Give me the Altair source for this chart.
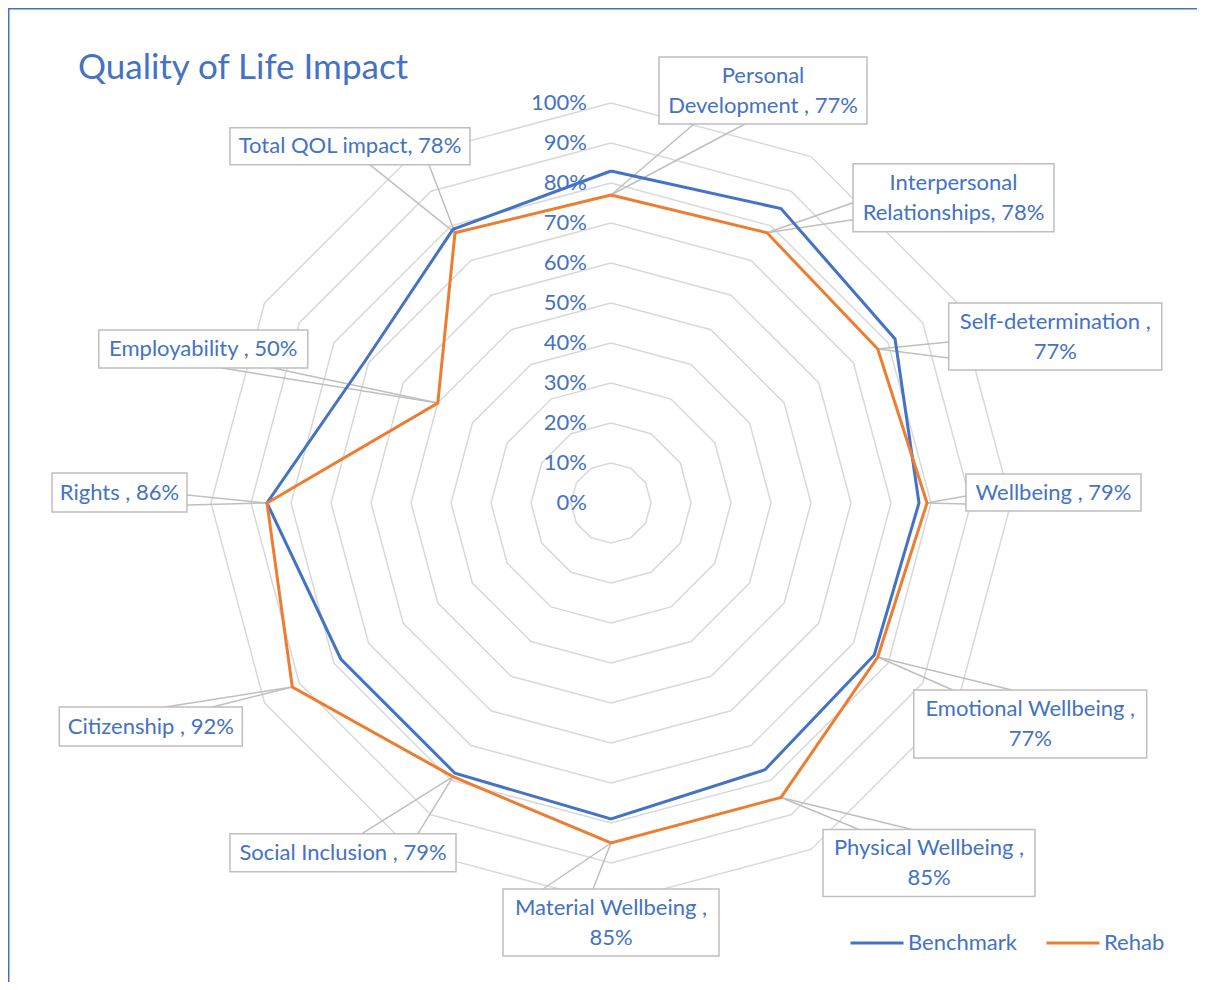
import math
import altair as alt
import pandas as pd

# ---------------- data ----------------
categories = [
    "Personal Development ", "Interpersonal Relationships", "Self-determination ",
    "Wellbeing ", "Emotional Wellbeing ", "Physical Wellbeing ", "Material Wellbeing ",
    "Social Inclusion ", "Citizenship ", "Rights ", "Employability ", "Total QOL impact",
]
benchmark = [0.83, 0.85, 0.82, 0.77, 0.76, 0.77, 0.79, 0.78, 0.78, 0.86, 0.71, 0.79]
rehab = [0.77, 0.78, 0.77, 0.79, 0.77, 0.85, 0.85, 0.79, 0.92, 0.86, 0.50, 0.78]
series_names = ["Benchmark", "Rehab"]
tick_values = [0.0, 0.1, 0.2, 0.3, 0.4, 0.5, 0.6, 0.7, 0.8, 0.9, 1.0]
title_text = "Quality of Life Impact"

# ---------------- layout (pixels / styles) ----------------
W, H = 1189, 974
CX, CY, R = 603, 495, 400          # centre of the radar and px per 100 %
BLUE, ORANGE = "#4472C4", "#ED7D31"
GRID, CALLOUT = "#D9D9D9", "#BFBFBF"
FONT = "Lato"
FS = 22
LH = 30
TICK_GAP = 24

# callout per category: box-centre offset from its point (px), box size,
# how the label wraps, and two wedge base points (offsets from the point)
callouts = [
    (152, -104.5, 208, 67, "word", (83, -71), (134, -71)),
    (186.5, -35, 201, 68, "word", (86, -30), (86, -13)),
    (177.5, -12.5, 213, 67, "value", (71, -7), (71, 9)),
    (126.5, -10.5, 175, 37, None, (39, -7), (39, 1)),
    (152.5, 67, 233, 68, "value", (75, 33), (134, 33)),
    (148, 65.5, 212, 67, "value", (78, 32), (131, 32)),
    (0, 79.5, 216, 67, "value", (-68, 46), (-18, 46)),
    (-110, 76, 226, 38, None, (-91, 57), (-35, 57)),
    (-141.5, 39.5, 183, 39, None, (-127, 20), (-80, 20)),
    (-147.5, -10.5, 135, 39, None, (-80, -8), (-80, 2)),
    (-234.5, -54, 209, 38, None, (-216, -35), (-165, -35)),
    (-105, -86.5, 240, 37, None, (-85, -68), (-26, -68)),
]

n = len(categories)


def polar(v, k):
    a = 2 * math.pi * k / n
    return v * math.sin(a), v * math.cos(a)


# rings
ring_rows = []
for v in tick_values[1:]:
    for k in range(n + 1):
        x, y = polar(v, k % n)
        ring_rows.append(dict(ring=v, order=k, x=x, y=y))
ring_df = pd.DataFrame(ring_rows)

# radial axis labels
tick_df = pd.DataFrame({"v": tick_values})
tick_df["x"] = -TICK_GAP / R
tick_df["lab"] = [f"{round(v * 100)}%" for v in tick_values]

# series
ser_rows = []
for name, vals in zip(series_names, [benchmark, rehab]):
    for k in range(n + 1):
        x, y = polar(vals[k % n], k % n)
        ser_rows.append(dict(series=name, order=k, x=x, y=y))
ser_df = pd.DataFrame(ser_rows)

# callouts
box_rows, wedge_rows, fill_rows = [], [], []
for i, (cat, val) in enumerate(zip(categories, rehab)):
    dx, dy, w, h, wrap, b1, b2 = callouts[i]
    tx, ty = polar(val, i)
    pct = f"{round(val * 100)}%"
    if wrap == "word":
        first, rest = cat.split(" ", 1)
        label = first + "\n" + rest + ", " + pct
    elif wrap == "value":
        label = cat + ",\n" + pct
    else:
        label = cat + ", " + pct
    nlines = label.count("\n") + 1
    cx, cy = tx + dx / R, ty - dy / R
    box_rows.append(dict(cx=cx, cy=cy, ty=cy + (nlines - 1) * LH / 2 / R,
                         x0=cx - w / 2 / R, x1=cx + w / 2 / R,
                         y0=cy - h / 2 / R, y1=cy + h / 2 / R, label=label))
    pts = [(tx, ty)]
    for b in (b1, b2):
        bx, by = tx + b[0] / R, ty - b[1] / R
        wedge_rows.append(dict(x=bx, y=by, x2=tx, y2=ty))
        pts.append((bx, by))
    # white wedge fill as an area between the triangle's upper and lower edges
    pts.sort()
    (ax, ay), (mx, my), (ex, ey) = pts
    t = 0.0 if ex == ax else (mx - ax) / (ex - ax)
    yo = ay + t * (ey - ay)
    for j, (px, p1, p2) in enumerate([(ax, ay, ay), (mx, my, yo), (ex, ey, ey)]):
        fill_rows.append(dict(w=i, o=j, x=px, y=p1, y2=p2))
box_df = pd.DataFrame(box_rows)
wedge_df = pd.DataFrame(wedge_rows)
fill_df = pd.DataFrame(fill_rows)

xs = alt.Scale(domain=[-CX / R, (W - CX) / R], nice=False, zero=False)
ys = alt.Scale(domain=[-(H - CY) / R, CY / R], nice=False, zero=False)


def X(f):
    return alt.X(f, scale=xs, axis=None)


def Y(f):
    return alt.Y(f, scale=ys, axis=None)


rings = alt.Chart(ring_df).mark_line(stroke=GRID, strokeWidth=1.5).encode(
    x=X("x:Q"), y=Y("y:Q"), detail="ring:N", order="order:Q")

ticks = alt.Chart(tick_df).mark_text(font=FONT, fontSize=FS, color=BLUE, align="right",
                                     baseline="middle").encode(
    x=X("x:Q"), y=Y("v:Q"), text="lab:N")

wedge_fill = alt.Chart(fill_df).mark_area(fill="white", opacity=1).encode(
    x=X("x:Q"), y=Y("y:Q"), y2="y2:Q", detail="w:N", order="o:Q")

wedges = alt.Chart(wedge_df).mark_rule(stroke=CALLOUT, strokeWidth=1.5).encode(
    x=X("x:Q"), y=Y("y:Q"), x2="x2:Q", y2="y2:Q")

lines = alt.Chart(ser_df).mark_line(strokeWidth=3).encode(
    x=X("x:Q"),
    y=Y("y:Q"),
    color=alt.Color(
        "series:N",
        scale=alt.Scale(domain=series_names, range=[BLUE, ORANGE]),
        legend=alt.Legend(orient="none", legendX=841, legendY=907, direction="horizontal",
                          symbolType="stroke", symbolStrokeWidth=3, symbolSize=2809,
                          labelFont=FONT, labelFontSize=FS, labelColor=BLUE, labelOffset=3,
                          columnPadding=23, padding=0, title=None, labelLimit=400),
    ),
    order="order:Q",
)

boxes = alt.Chart(box_df).mark_rect(fill="white", stroke=CALLOUT, strokeWidth=1.5).encode(
    x=X("x0:Q"), x2="x1:Q", y=Y("y0:Q"), y2="y1:Q")

labels = alt.Chart(box_df).mark_text(font=FONT, fontSize=FS, color=BLUE, lineBreak="\n",
                                      lineHeight=LH, align="center", baseline="middle").encode(
    x=X("cx:Q"), y=Y("ty:Q"), text="label:N")

title = alt.Chart(pd.DataFrame({"t": [title_text]})).mark_text(
    font=FONT, fontSize=35, color=BLUE, align="left", baseline="alphabetic").encode(
    x=alt.value(70), y=alt.value(71), text="t:N")

frame_left = alt.Chart(pd.DataFrame({"a": [0]})).mark_rule(stroke=BLUE, strokeWidth=1.5).encode(
    x=alt.value(0.75), y=alt.value(0), y2=alt.value(H))
frame_top = alt.Chart(pd.DataFrame({"a": [0]})).mark_rule(stroke=BLUE, strokeWidth=1.5).encode(
    x=alt.value(0), x2=alt.value(W), y=alt.value(0.75))

chart = alt.layer(rings, ticks, wedge_fill, wedges, lines, boxes, labels, title,
                  frame_left, frame_top).properties(
    width=W, height=H, autosize=alt.AutoSizeParams(type="none"), padding=0
).configure_view(stroke=None)

chart.save("out.html", embed_options={"renderer": "svg", "actions": False})
